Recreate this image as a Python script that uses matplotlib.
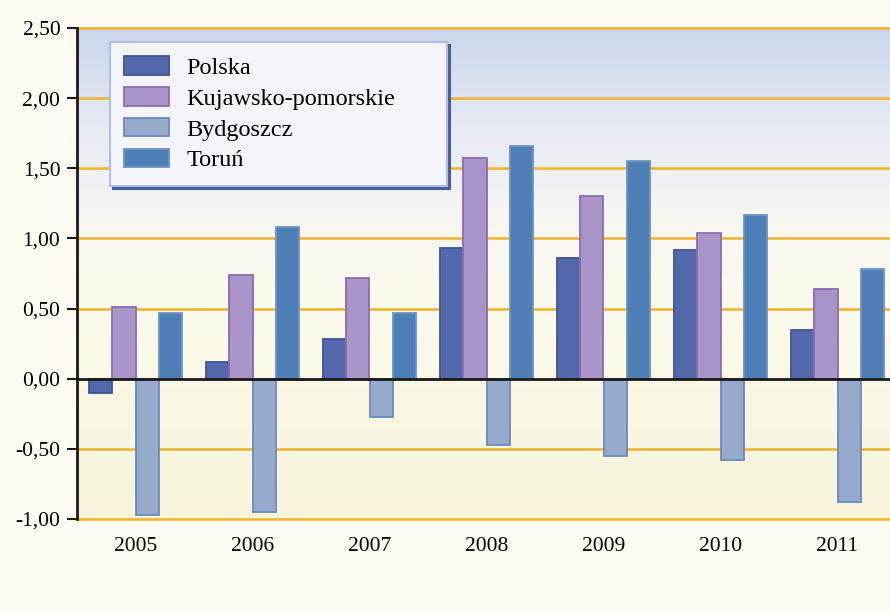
import numpy as np
import matplotlib
matplotlib.use("Agg")
from matplotlib import pyplot as plt
from matplotlib.colors import LinearSegmentedColormap

lata = ["2005", "2006", "2007", "2008", "2009", "2010", "2011"]
serie = ["Polska", "Kujawsko-pomorskie", "Bydgoszcz", "Toruń"]
polska = [-0.10, 0.12, 0.28, 0.93, 0.86, 0.92, 0.35]
kujawsko = [0.51, 0.74, 0.72, 1.57, 1.30, 1.04, 0.64]
bydgoszcz = [-0.97, -0.95, -0.27, -0.47, -0.55, -0.58, -0.88]
torun = [0.47, 1.08, 0.47, 1.66, 1.55, 1.17, 0.78]
yticks = [-1.0, -0.5, 0.0, 0.5, 1.0, 1.5, 2.0, 2.5]

kolory = ["#5469AB", "#A894C6", "#96AACB", "#4F7FB7"]
krawedzie = ["#3F5594", "#8A6DB0", "#6B88BF", "#6F95C4"]

plt.rcParams['font.family'] = ['Liberation Serif', 'DejaVu Serif']

fig = plt.figure(figsize=(8.9, 6.14), dpi=100)
fig.patch.set_facecolor("#FDFBF3")
ax = fig.add_axes([77/890, 1-519/614, 819/890, 491/614])
ax.set_facecolor("none")

# gradient tla
cmap = LinearSegmentedColormap.from_list("tlo", [(0.0, "#F7F4DA"), (0.45, "#FCFAEC"),
                                                 (0.62, "#F6F6F2"), (0.8, "#E6EAF3"), (1.0, "#CAD6EB")])
grad = np.linspace(0, 1, 256).reshape(-1, 1)
ax.imshow(grad, extent=[0, 1, 0, 1], transform=ax.transAxes, aspect="auto",
          cmap=cmap, origin="lower", zorder=0)

x = np.arange(len(lata))
szer = 0.2
dane = [polska, kujawsko, bydgoszcz, torun]
for i, (vals, nazwa) in enumerate(zip(dane, serie)):
    ax.bar(x + (i - 1.5) * szer, vals, szer, color=kolory[i], edgecolor=krawedzie[i],
           linewidth=1.3, label=nazwa, zorder=3)

for t in yticks:
    if t != 0:
        ax.axhline(t, color="#F0B32A", linewidth=1.8, zorder=1, clip_on=False)
ax.axhline(0, color="#1A1A1A", linewidth=2, zorder=4)

ax.set_xlim(-0.5, 6.5)
ax.set_ylim(-1.0, 2.5)
ax.set_yticks(yticks)
ax.set_yticklabels([("%.2f" % t).replace(".", ",") for t in yticks], fontsize=15.5)
ax.set_xticks(x)
ax.set_xticklabels(lata, fontsize=15.5)
ax.tick_params(axis="x", length=0, pad=13)
ax.tick_params(axis="y", length=7, width=1.5, color="#1A1A1A", pad=5)
for s in ["top", "right", "bottom"]:
    ax.spines[s].set_visible(False)
ax.spines["left"].set_linewidth(2)
ax.spines["left"].set_color("#1A1A1A")
ax.spines["left"].set_zorder(5)

leg = ax.legend(loc="upper left", bbox_to_anchor=(0.04, 0.68, 0.412, 0.292), mode="expand",
                borderaxespad=0, fontsize=17.5, handlelength=1.85, handleheight=0.8,
                labelspacing=0.33, handletextpad=0.7, borderpad=0.6, fancybox=False,
                facecolor="#F3F5FB", edgecolor="#AFC0E4", framealpha=1,
                shadow={"color": "#4A5F9A", "alpha": 1})
leg.get_frame().set_linewidth(1.5)
leg.set_zorder(6)

fig.savefig("out.png", dpi=100, facecolor=fig.get_facecolor())
